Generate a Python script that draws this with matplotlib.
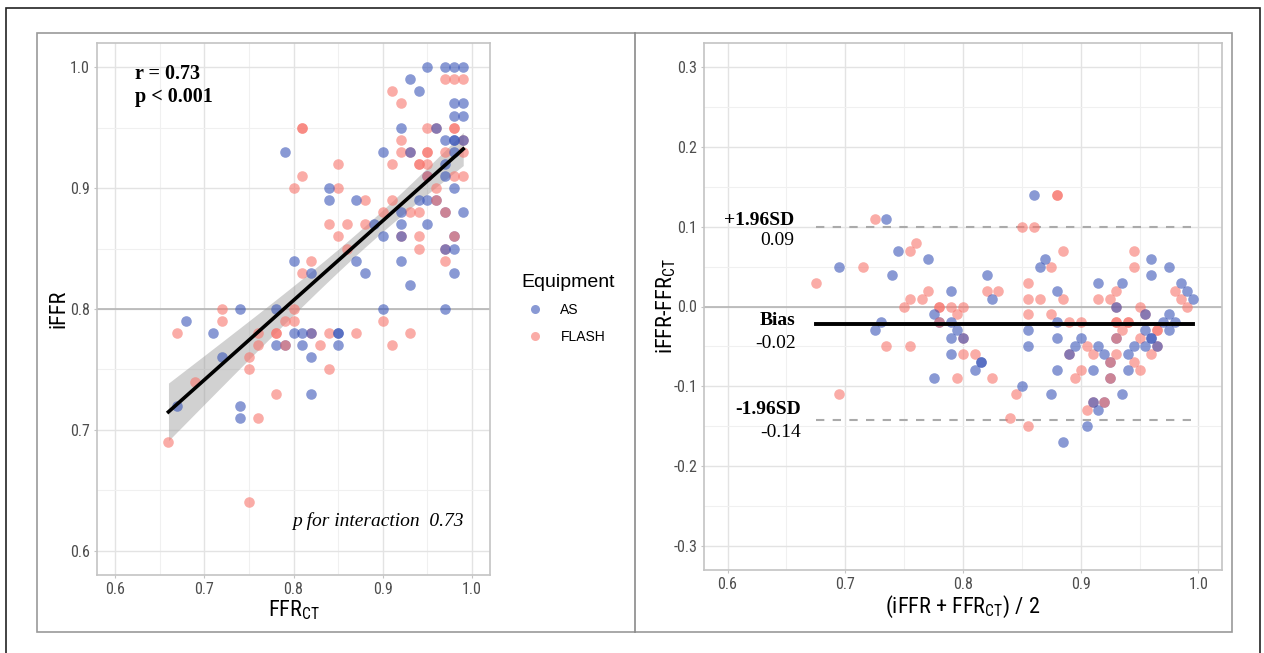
import numpy as np
import matplotlib.pyplot as plt
import matplotlib.font_manager as fm
from matplotlib.patches import Rectangle
from matplotlib.lines import Line2D

# FFR_CT (x) / iFFR (y) pairs, AS equipment
as_ffrct = [0.95, 0.97, 0.98, 0.99, 0.93, 0.94, 0.98, 0.99, 0.98, 0.99,
            0.92, 0.96, 0.97, 0.98, 0.98, 0.99, 0.79, 0.90, 0.93, 0.98,
            0.97, 0.95, 0.97, 0.84, 0.98, 0.84, 0.87, 0.94, 0.95, 0.96,
            0.92, 0.97, 0.99, 0.89, 0.92, 0.95, 0.90, 0.92, 0.98, 0.97,
            0.98, 0.80, 0.87, 0.92, 0.82, 0.88, 0.98, 0.93, 0.74, 0.78,
            0.90, 0.97, 0.68, 0.71, 0.80, 0.81, 0.82, 0.85, 0.85, 0.78,
            0.79, 0.81, 0.85, 0.72, 0.82, 0.82, 0.67, 0.74, 0.74]
as_iffr = [1.00, 1.00, 1.00, 1.00, 0.99, 0.98, 0.97, 0.97, 0.96, 0.96,
           0.95, 0.95, 0.94, 0.94, 0.94, 0.94, 0.93, 0.93, 0.93, 0.93,
           0.92, 0.91, 0.91, 0.90, 0.90, 0.89, 0.89, 0.89, 0.89, 0.89,
           0.88, 0.88, 0.88, 0.87, 0.87, 0.87, 0.86, 0.86, 0.86, 0.85,
           0.85, 0.84, 0.84, 0.84, 0.83, 0.83, 0.83, 0.82, 0.80, 0.80,
           0.80, 0.80, 0.79, 0.78, 0.78, 0.78, 0.78, 0.78, 0.78, 0.77,
           0.77, 0.77, 0.77, 0.76, 0.76, 0.73, 0.72, 0.72, 0.71]

# FLASH equipment
flash_ffrct = [0.97, 0.98, 0.99, 0.91, 0.92, 0.81, 0.81, 0.95, 0.96, 0.98,
               0.98, 0.92, 0.99, 0.92, 0.93, 0.95, 0.95, 0.97, 0.99, 0.85,
               0.91, 0.94, 0.94, 0.95, 0.81, 0.98, 0.99, 0.80, 0.85, 0.96,
               0.88, 0.91, 0.90, 0.93, 0.94, 0.84, 0.86, 0.88, 0.85, 0.92,
               0.94, 0.86, 0.94, 0.97, 0.82, 0.97, 0.81, 0.72, 0.80, 0.72,
               0.79, 0.80, 0.90, 0.67, 0.76, 0.78, 0.78, 0.82, 0.84, 0.87,
               0.93, 0.76, 0.83, 0.91, 0.75, 0.75, 0.84, 0.69, 0.78, 0.76,
               0.66, 0.75]
flash_iffr = [0.99, 0.99, 0.99, 0.98, 0.97, 0.95, 0.95, 0.95, 0.95, 0.95,
              0.95, 0.94, 0.94, 0.93, 0.93, 0.93, 0.93, 0.93, 0.93, 0.92,
              0.92, 0.92, 0.92, 0.92, 0.91, 0.91, 0.91, 0.90, 0.90, 0.90,
              0.89, 0.89, 0.88, 0.88, 0.88, 0.87, 0.87, 0.87, 0.86, 0.86,
              0.86, 0.85, 0.85, 0.85, 0.84, 0.84, 0.83, 0.80, 0.80, 0.79,
              0.79, 0.79, 0.79, 0.78, 0.78, 0.78, 0.78, 0.78, 0.78, 0.78,
              0.78, 0.77, 0.77, 0.77, 0.76, 0.75, 0.75, 0.74, 0.73, 0.71,
              0.69, 0.64]
# FLASH points plotted over an AS point at the same spot
flash_top_ffrct = [0.95, 0.97, 0.96, 0.79, 0.98]
flash_top_iffr = [0.91, 0.88, 0.89, 0.77, 0.86]

ticks_x = [0.6, 0.7, 0.8, 0.9, 1.0]
ticks_left_y = [0.6, 0.7, 0.8, 0.9, 1.0]
ticks_right_y = [-0.3, -0.2, -0.1, 0.0, 0.1, 0.2, 0.3]

BLUE = '#3a56b8'
RED = '#F8766D'
ALPHA = 0.6
MS = 58

# pick a narrow sans if one is installed, else Arial-like Liberation Sans
avail = {f.name for f in fm.fontManager.ttflist}
NARROW = [f for f in ['Liberation Sans Narrow', 'Roboto Condensed',
                      'Open Sans Condensed', 'Liberation Sans'] if f in avail]
NARROW = NARROW + ['DejaVu Sans']
SERIF = ['Liberation Serif', 'DejaVu Serif']
plt.rcParams['mathtext.fontset'] = 'custom'
plt.rcParams['mathtext.rm'] = NARROW[0]

fig = plt.figure(figsize=(12.64, 6.53), dpi=100)
W, H = 1264, 653


def px_axes(x0, y0, x1, y1):
    return fig.add_axes([x0 / W, 1 - y1 / H, (x1 - x0) / W, (y1 - y0) / H])


def style(ax, xlim, ylim, yt):
    ax.set_xlim(*xlim)
    ax.set_ylim(*ylim)
    ax.set_xticks(ticks_x)
    ax.set_yticks(yt)
    ax.set_xticks(np.arange(0.65, 1.0, 0.1), minor=True)
    step = yt[1] - yt[0]
    ax.set_yticks(np.array(yt[:-1]) + step / 2, minor=True)
    ax.grid(which='major', color='#e3e3e3', lw=1.0)
    ax.grid(which='minor', color='#f0f0f0', lw=0.8)
    ax.set_axisbelow(True)
    for s in ax.spines.values():
        s.set_color('#c4c4c4')
        s.set_linewidth(1.2)
    ax.tick_params(which='major', length=2.5, color='#c4c4c4',
                   labelcolor='#4d4d4d', labelsize=11.5, pad=2.5)
    ax.tick_params(which='minor', length=0)


# ---- left panel: correlation ----
ax1 = px_axes(97, 43, 490, 575)
style(ax1, (0.58, 1.02), (0.58, 1.02), ticks_left_y)
ax1.set_xticklabels([f'{t:.1f}' for t in ticks_x], family=NARROW)
ax1.set_yticklabels([f'{t:.1f}' for t in ticks_left_y], family=NARROW)
ax1.axhline(0.8, color='#b5b5b5', lw=1.2, zorder=1)

all_x = np.array(as_ffrct + flash_ffrct + flash_top_ffrct)
all_y = np.array(as_iffr + flash_iffr + flash_top_iffr)
n = len(all_x)
b1, b0 = np.polyfit(all_x, all_y, 1)
resid = all_y - (b0 + b1 * all_x)
s = np.sqrt(np.sum(resid ** 2) / (n - 2))
xm = all_x.mean()
sxx = np.sum((all_x - xm) ** 2)
xs = np.linspace(all_x.min(), all_x.max(), 100)
yhat = b0 + b1 * xs
se = s * np.sqrt(1 / n + (xs - xm) ** 2 / sxx)
ax1.fill_between(xs, yhat - 1.977 * se, yhat + 1.977 * se, color='#999999',
                 alpha=0.45, lw=0, zorder=2)

ax1.scatter(flash_ffrct, flash_iffr, s=MS, color=RED, alpha=ALPHA, lw=0, zorder=3)
ax1.scatter(as_ffrct, as_iffr, s=MS, color=BLUE, alpha=ALPHA, lw=0, zorder=3)
ax1.scatter(flash_top_ffrct, flash_top_iffr, s=MS, color=RED, alpha=ALPHA, lw=0, zorder=3)
ax1.plot(xs, yhat, color='black', lw=2.6, zorder=4)

ax1.text(0.622, 1.003, 'r = 0.73\np < 0.001', family=SERIF, fontweight='bold',
         fontsize=14.5, va='top', ha='left', linespacing=1.2)
ax1.text(0.99, 0.625, 'p for interaction  0.73', family=SERIF, style='italic',
         fontsize=14, ha='right', va='center')
ax1.set_xlabel(r'FFR$_{\mathrm{CT}}$', family=NARROW, fontsize=16, labelpad=1)
ax1.set_ylabel('iFFR', family=NARROW, fontsize=16)
ax1.yaxis.set_label_coords(-0.07, 0.5)

# ---- right panel: Bland-Altman ----
ax2 = px_axes(704, 43, 1222, 570)
style(ax2, (0.58, 1.02), (-0.33, 0.33), ticks_right_y)
ax2.set_xticklabels([f'{t:.1f}' for t in ticks_x], family=NARROW)
ax2.set_yticklabels([f'{t:.1f}' for t in ticks_right_y], family=NARROW)
ax2.axhline(0.0, color='#b5b5b5', lw=1.2, zorder=1)


def ba(fx, fy):
    fx, fy = np.array(fx), np.array(fy)
    return (fx + fy) / 2, fy - fx


for fx, fy, c in [(flash_ffrct, flash_iffr, RED), (as_ffrct, as_iffr, BLUE),
                  (flash_top_ffrct, flash_top_iffr, RED)]:
    m, d = ba(fx, fy)
    ax2.scatter(m, d, s=MS, color=c, alpha=ALPHA, lw=0, zorder=3)

m_all, d_all = ba(all_x, all_y)
bias = d_all.mean()
sd = d_all.std(ddof=1)
lo_x, hi_x = m_all.min(), m_all.max()
ax2.plot([lo_x, hi_x], [bias, bias], color='black', lw=2.8, zorder=4)
for lim in (bias + 1.96 * sd, bias - 1.96 * sd):
    ax2.plot([lo_x, hi_x], [lim, lim], color='#aaaaaa', lw=1.5,
             ls=(0, (4, 4)), zorder=2)

for xr, yb, yv, t1, t2 in [(0.657, 0.108, 0.083, '+1.96SD', '0.09'),
                           (0.658, -0.017, -0.046, 'Bias', '-0.02'),
                           (0.662, -0.129, -0.158, '-1.96SD', '-0.14')]:
    ax2.text(xr, yb, t1, family=SERIF, fontweight='bold', fontsize=14,
             ha='right', va='center')
    ax2.text(xr, yv, t2, family=SERIF, fontsize=14, ha='right', va='center')

ax2.set_xlabel(r'(iFFR + FFR$_{\mathrm{CT}}$) / 2', family=NARROW,
               fontsize=16, labelpad=1)
ax2.set_ylabel(r'iFFR-FFR$_{\mathrm{CT}}$', family=NARROW, fontsize=16)
ax2.yaxis.set_label_coords(-0.05, 0.5)

# ---- legend ----
handles = [Line2D([], [], ls='none', marker='o', ms=6.5, color=BLUE, alpha=ALPHA,
                  mec='none'),
           Line2D([], [], ls='none', marker='o', ms=6.5, color=RED, alpha=ALPHA,
                  mec='none')]
leg = fig.legend(handles, ['AS', 'FLASH'], title='Equipment',
                 loc='upper left', bbox_to_anchor=(516 / W, 1 - 268 / H),
                 frameon=False, title_fontsize=14,
                 handletextpad=0.8, labelspacing=0.9, borderaxespad=0,
                 prop={'family': ['Liberation Sans', 'DejaVu Sans'], 'size': 10})
leg.get_title().set_family(['Liberation Sans', 'DejaVu Sans'])
leg._legend_box.align = 'left'

# ---- frames ----
fig.patches.append(Rectangle((6 / W, 1 - 680 / H), 1254 / W, 672 / H,
                             transform=fig.transFigure, fill=False,
                             ec='#222222', lw=1.2))
fig.patches.append(Rectangle((37 / W, 1 - 632 / H), 1195 / W, 599 / H,
                             transform=fig.transFigure, fill=False,
                             ec='#9a9a9a', lw=1.2))
fig.lines.append(Line2D([635 / W, 635 / W], [1 - 632 / H, 1 - 33 / H],
                        transform=fig.transFigure, color='#8a8a8a', lw=1.2))

fig.savefig('out.png', dpi=100)
